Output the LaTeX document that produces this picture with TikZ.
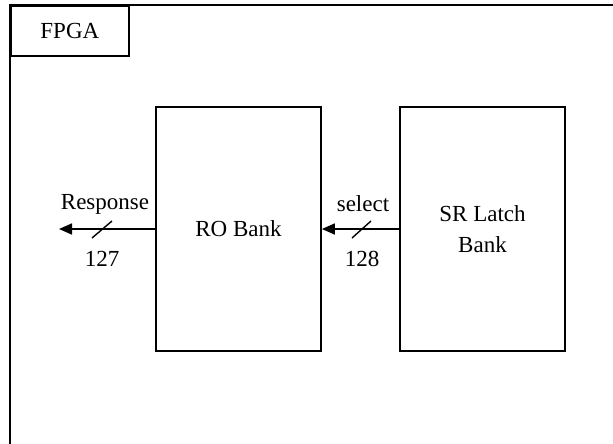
\documentclass[tikz,border=0pt]{standalone}
\usepackage{fontspec}
\setmainfont{Liberation Serif}
\usetikzlibrary{arrows.meta}
\begin{document}
\begin{tikzpicture}[x=1pt,y=-1pt,
  line width=1.7pt,
  block/.style={draw, minimum width=165pt, minimum height=244pt, inner sep=0pt, align=center, font=\fontsize{23}{28}\selectfont},
  lbl/.style={font=\fontsize{23}{28}\selectfont, inner sep=0pt},
  bus/.style={-{Triangle[length=13pt,width=11pt]}},
  slash/.style={line width=1.4pt}]
\useasboundingbox (0,0) rectangle (613,444);
\coordinate (ftl) at (10,5);
\coordinate (ftr) at (613,5);
\coordinate (fbl) at (10,444);
\draw (fbl) -- (ftl) -- (ftr);
\node[draw, minimum width=118pt, minimum height=50pt, inner sep=0pt, anchor=north west, lbl] (fpga) at (10,5) {FPGA};
\node[block] (ro) at (238.5,229) {RO Bank};
\node[block] (sr) at (482.5,229) {SR Latch\\[3pt]Bank};
\coordinate (resp) at (59,229);
\draw[bus] (sr.west) -- (ro.east);
\draw[bus] (ro.west) -- (resp);
\draw[slash] (92,238) -- (112,221);
\draw[slash] (352,238) -- (371,221);
\node[lbl] (respl) at (105,204) {Response};
\node[lbl] (n127) at (102,259) {127};
\node[lbl] (sell) at (363,204) {select};
\node[lbl] (n128) at (362,259) {128};
\end{tikzpicture}
\end{document}
